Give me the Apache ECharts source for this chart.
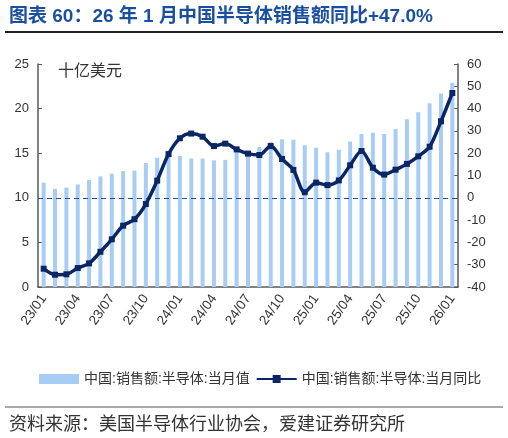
<!DOCTYPE html>
<html>
<head>
<meta charset="utf-8">
<script src="https://cdn.jsdelivr.net/npm/echarts@6/dist/echarts.min.js"></script>
<style>
html,body{margin:0;padding:0;background:#fff;}
#c{width:508px;height:438px;}
</style>
</head>
<body>
<div id="c"></div>
<script>
var categories = ['23/01','23/02','23/03','23/04','23/05','23/06','23/07','23/08','23/09','23/10','23/11','23/12',
'24/01','24/02','24/03','24/04','24/05','24/06','24/07','24/08','24/09','24/10','24/11','24/12',
'25/01','25/02','25/03','25/04','25/05','25/06','25/07','25/08','25/09','25/10','25/11','25/12','26/01'];
var salesValue = [11.7,11.0,11.15,11.5,12.0,12.4,12.7,13.0,13.05,13.9,14.5,15.0,
14.7,14.4,14.4,14.2,14.25,15.2,15.3,15.7,16.25,16.55,16.5,15.9,
15.6,15.1,15.4,16.3,17.15,17.3,17.15,17.7,18.8,19.6,20.6,21.7,22.9];
var salesYoY = [-31.8,-34.5,-34.3,-31.5,-29.4,-24.2,-18.6,-12.5,-9.6,-2.8,7.7,19.6,
26.7,28.8,27.4,23.2,24.3,21.7,19.8,19.2,23.2,17.4,12.5,2.5,
6.8,5.7,7.8,14.6,21.0,13.5,10.4,12.6,15.2,18.6,22.9,34.3,47.0];
var seriesNames = ['中国:销售额:半导体:当月值','中国:销售额:半导体:当月同比'];
var titleText = '图表 60：26 年 1 月中国半导体销售额同比+47.0%';
var unitText = '十亿美元';
var sourceText = '资料来源：美国半导体行业协会，爱建证券研究所';

var FONT = '"Liberation Sans", Arial, "Noto Sans CJK SC", sans-serif';
var chart = echarts.init(document.getElementById('c'), null, {renderer:'canvas'});
var axisColor = '#595959';
var option = {
  backgroundColor: '#fff',
  animation: false,
  textStyle: {fontFamily: FONT},
  title: [{
    text: titleText, left: 4, top: 2,
    textStyle: {fontSize: 19, fontWeight: 'bold', color: '#1a4f9f', fontFamily: FONT}
  },{
    text: sourceText, left: 4, top: 411,
    textStyle: {fontSize: 18, fontWeight: 'normal', color: '#333', fontFamily: FONT}
  }],
  graphic: [
    {type:'line', shape:{x1:5,y1:32,x2:503,y2:32}, style:{stroke:'#222', lineWidth:2}},
    {type:'line', shape:{x1:5,y1:407,x2:503,y2:407}, style:{stroke:'#555', lineWidth:1}},
    {type:'text', left: 58, top: 64, style:{text: unitText, fontSize: 16, fill:'#333', fontFamily: FONT}}
  ],
  legend: {
    left: 34, top: 367, itemWidth: 40, itemHeight: 10, itemGap: 6,
    textStyle: {fontSize: 14, color: '#333', fontFamily: FONT},
    data: [
      {name: seriesNames[0], icon: 'rect'},
      {name: seriesNames[1]}
    ]
  },
  grid: {left: 38, right: 50, top: 64, bottom: 151, containLabel: false},
  xAxis: {
    type: 'category', data: categories, boundaryGap: true,
    axisLine: {lineStyle: {color: axisColor, width: 1.5}},
    axisTick: {show: false},
    axisLabel: {interval: 2, rotate: 55, fontSize: 13.5, color: '#333', margin: 9, fontFamily: FONT}
  },
  yAxis: [{
    type: 'value', min: 0, max: 25, interval: 5,
    axisLine: {show: true, lineStyle: {color: axisColor, width: 1.5}},
    axisTick: {show: true, inside: true, length: 4, lineStyle: {color: axisColor}},
    splitLine: {show: false},
    axisLabel: {fontSize: 13, color: '#333', margin: 9, fontFamily: FONT}
  },{
    type: 'value', min: -40, max: 60, interval: 10,
    axisLine: {show: true, lineStyle: {color: axisColor, width: 1.5}},
    axisTick: {show: true, inside: true, length: 4, lineStyle: {color: axisColor}},
    splitLine: {show: false},
    axisLabel: {fontSize: 13, color: '#333', margin: 9, fontFamily: FONT}
  }],
  series: [{
    name: seriesNames[0], type: 'bar', data: salesValue, yAxisIndex: 0,
    barWidth: 4, itemStyle: {color: '#a8cdf5'}
  },{
    name: seriesNames[1], type: 'line', data: salesYoY, yAxisIndex: 1,
    smooth: 0.3, symbol: 'rect', symbolSize: 6, showSymbol: true,
    lineStyle: {color: '#0b2664', width: 3.5},
    itemStyle: {color: '#0b2664'},
    z: 5,
    markLine: {
      silent: true, symbol: 'none', label: {show: false},
      lineStyle: {type: [5,4], color: '#1f4ea0', width: 1.2},
      data: [{yAxis: 0}]
    }
  }]
};
chart.setOption(option);
</script>
</body>
</html>
